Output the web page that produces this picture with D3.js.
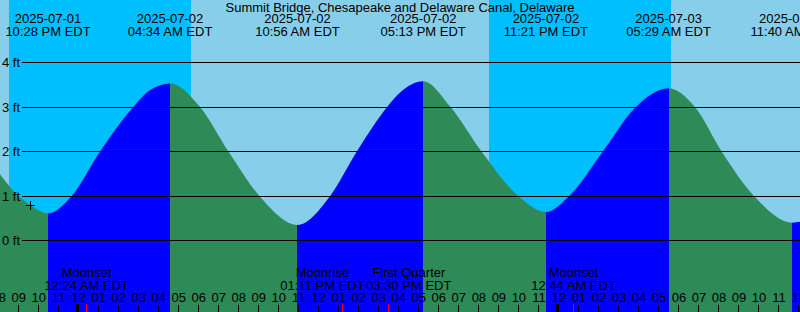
<!DOCTYPE html>
<html><head><meta charset="utf-8">
<script src="https://cdn.jsdelivr.net/npm/d3@7"></script>
<style>html,body{margin:0;padding:0;background:#87CEEB;overflow:hidden}svg{display:block}</style>
</head><body>
<svg id="c" width="800" height="312"></svg>
<script>
const title = "Summit Bridge, Chesapeake and Delaware Canal, Delaware";
const viewStart = "2025-07-01T20:04";
const viewEnd = "2025-07-03T12:03";

// Tide curve (time, height in ft)
const tideTimes = [
  "2025-07-01T20:04","2025-07-01T20:59","2025-07-01T21:34","2025-07-01T22:28",
  "2025-07-01T23:39","2025-07-02T01:04","2025-07-02T02:44","2025-07-02T03:34",
  "2025-07-02T04:34","2025-07-02T06:04","2025-07-02T07:29","2025-07-02T09:02",
  "2025-07-02T10:56","2025-07-02T12:34","2025-07-02T13:54","2025-07-02T15:25",
  "2025-07-02T16:03","2025-07-02T17:13","2025-07-02T18:35","2025-07-02T20:08",
  "2025-07-02T21:58","2025-07-02T23:21","2025-07-03T00:31","2025-07-03T02:12",
  "2025-07-03T03:51","2025-07-03T05:29","2025-07-03T06:48","2025-07-03T08:08",
  "2025-07-03T09:45","2025-07-03T11:40","2025-07-03T12:03"
];
const tideHeights = [
  1.49, 1.00, 0.80, 0.61,
  1.00, 2.00, 3.00, 3.38,
  3.53, 3.00, 2.00, 1.00,
  0.35, 1.00, 2.00, 3.00,
  3.32, 3.58, 3.00, 2.00,
  1.00, 0.64, 1.00, 2.00,
  3.00, 3.42, 3.00, 2.00,
  1.00, 0.40, 0.42
];

// High / low tide events
const extremeTimes = ["2025-07-01T22:28","2025-07-02T04:34","2025-07-02T10:56","2025-07-02T17:13","2025-07-02T23:21","2025-07-03T05:29","2025-07-03T11:40"];
const extremeTypes = ["low","high","low","high","low","high","low"];

// Sun events
const sunTimes = ["2025-07-01T20:31","2025-07-02T05:37","2025-07-02T20:30","2025-07-03T05:37"];
const sunTypes = ["set","rise","set","rise"];

// Moon events
const moonTimes = ["2025-07-02T00:24","2025-07-02T13:11","2025-07-02T15:30","2025-07-03T00:44"];
const moonNames = ["Moonset","Moonrise","First Quarter","Moonset"];

const heightTicks = [0,1,2,3,4];
const heightUnit = "ft";
const markTime = "2025-07-01T21:34";
const markHeight = 0.80;

const colors = {day:"#87CEEB", night:"#00BFFF", flood:"#0000FF", ebb:"#2E8B57", text:"#000", moon:"#FF0000"};
const font = "'Liberation Sans', Arial, Helvetica, sans-serif";
const fs = 13;

const W = 800, H = 312;
const parse = d3.timeParse("%Y-%m-%dT%H:%M");
const t0 = parse(viewStart), t1 = parse(viewEnd);
const x = d3.scaleTime().domain([t0, t1]).range([0, W]);
const y = d3.scaleLinear().domain([0, 4]).range([240.5, 62.5]);

const svg = d3.select("#c");

// background day/night
let bounds = [t0, ...sunTimes.map(parse), t1];
let state = sunTypes[0] === "set" ? "day" : "night";
for (let i = 0; i < bounds.length - 1; i++) {
  const a = Math.round(x(bounds[i])), b = Math.round(x(bounds[i+1]));
  svg.append("rect").attr("x", a).attr("y", 0).attr("width", b - a).attr("height", H)
    .attr("fill", colors[state]).attr("shape-rendering","crispEdges");
  if (i < sunTypes.length) state = sunTypes[i] === "set" ? "night" : "day";
}

// tide area
const data = tideTimes.map((t, i) => ({t: parse(t), h: tideHeights[i]}));
const area = d3.area().x(d => x(d.t)).y0(H).y1(d => y(d.h)).curve(d3.curveMonotoneX);
svg.append("clipPath").attr("id","tideclip").append("path").attr("d", area(data));

const eb = [t0, ...extremeTimes.map(parse), t1];
const g = svg.append("g").attr("clip-path","url(#tideclip)");
for (let i = 0; i < eb.length - 1; i++) {
  let kind;
  if (i < extremeTypes.length) kind = extremeTypes[i] === "low" ? "ebb" : "flood";
  else kind = extremeTypes[extremeTypes.length-1] === "low" ? "flood" : "ebb";
  const a = Math.round(x(eb[i])), b = Math.round(x(eb[i+1]));
  g.append("rect").attr("x", a).attr("y", 0).attr("width", b - a).attr("height", H)
    .attr("fill", colors[kind]).attr("shape-rendering","crispEdges");
}

// grid lines and labels
heightTicks.forEach(v => {
  const yy = Math.floor(y(v)) + 0.5;
  svg.append("line").attr("x1", 22).attr("x2", W).attr("y1", yy).attr("y2", yy)
    .attr("stroke", "#000").attr("stroke-width", 1).attr("shape-rendering","crispEdges");
  svg.append("text").attr("x", 2).attr("y", yy + 4.5).text(v + " " + heightUnit)
    .attr("font-family", font).attr("font-size", fs).attr("fill", colors.text);
});

// mark
const mx = Math.round(x(parse(markTime))), my = Math.round(y(markHeight));
svg.append("line").attr("x1", mx - 4).attr("x2", mx + 5).attr("y1", my + 0.5).attr("y2", my + 0.5).attr("stroke","#000").attr("shape-rendering","crispEdges");
svg.append("line").attr("x1", mx + 0.5).attr("x2", mx + 0.5).attr("y1", my - 4).attr("y2", my + 5).attr("stroke","#000").attr("shape-rendering","crispEdges");

// title
svg.append("text").attr("x", W/2).attr("y", 12).attr("text-anchor","middle").text(title)
  .attr("font-family", font).attr("font-size", fs).attr("fill", colors.text);

// extreme labels
const fDate = d3.timeFormat("%Y-%m-%d"), fTime = d3.timeFormat("%I:%M %p EDT");
extremeTimes.forEach(s => {
  const t = parse(s), xx = x(t);
  svg.append("text").attr("x", xx).attr("y", 23).attr("text-anchor","middle").text(fDate(t))
    .attr("font-family", font).attr("font-size", fs).attr("fill", colors.text);
  svg.append("text").attr("x", xx).attr("y", 36).attr("text-anchor","middle").text(fTime(t))
    .attr("font-family", font).attr("font-size", fs).attr("fill", colors.text);
});

// hour ticks
const hours = d3.timeHour.range(d3.timeHour.ceil(d3.timeHour.offset(t0, -1)), d3.timeHour.offset(t1, 1));
const fHour = d3.timeFormat("%I");
hours.forEach(t => {
  const xx = x(t);
  svg.append("text").attr("x", xx).attr("y", 302).attr("text-anchor","middle").text(fHour(t))
    .attr("font-family", font).attr("font-size", fs).attr("fill", colors.text);
  if (t.getHours() === 0) {
    svg.append("rect").attr("x", Math.floor(xx) - 2).attr("y", 304).attr("width", 3).attr("height", 8)
      .attr("fill", "#000").attr("shape-rendering","crispEdges");
  } else {
    const px = Math.floor(xx) + 0.5;
    svg.append("line").attr("x1", px).attr("x2", px).attr("y1", 305).attr("y2", H)
      .attr("stroke", "#000").attr("shape-rendering","crispEdges");
  }
});

// moon events
const mxs = moonTimes.map(s => x(parse(s)));
const lx = mxs.slice();
for (let i = 0; i < lx.length - 1; i++) {
  if (mxs[i+1] - mxs[i] < 80) { lx[i] -= 20; lx[i+1] += 20; }
}
moonTimes.forEach((s, i) => {
  const t = parse(s);
  const px = Math.floor(mxs[i]) + 0.5;
  svg.append("line").attr("x1", px).attr("x2", px).attr("y1", 304).attr("y2", H)
    .attr("stroke", colors.moon).attr("shape-rendering","crispEdges");
  svg.append("text").attr("x", lx[i]).attr("y", 277).attr("text-anchor","middle").text(moonNames[i])
    .attr("font-family", font).attr("font-size", fs).attr("fill", colors.text);
  svg.append("text").attr("x", lx[i]).attr("y", 290).attr("text-anchor","middle").text(fTime(t))
    .attr("font-family", font).attr("font-size", fs).attr("fill", colors.text);
});
</script>
</body></html>
